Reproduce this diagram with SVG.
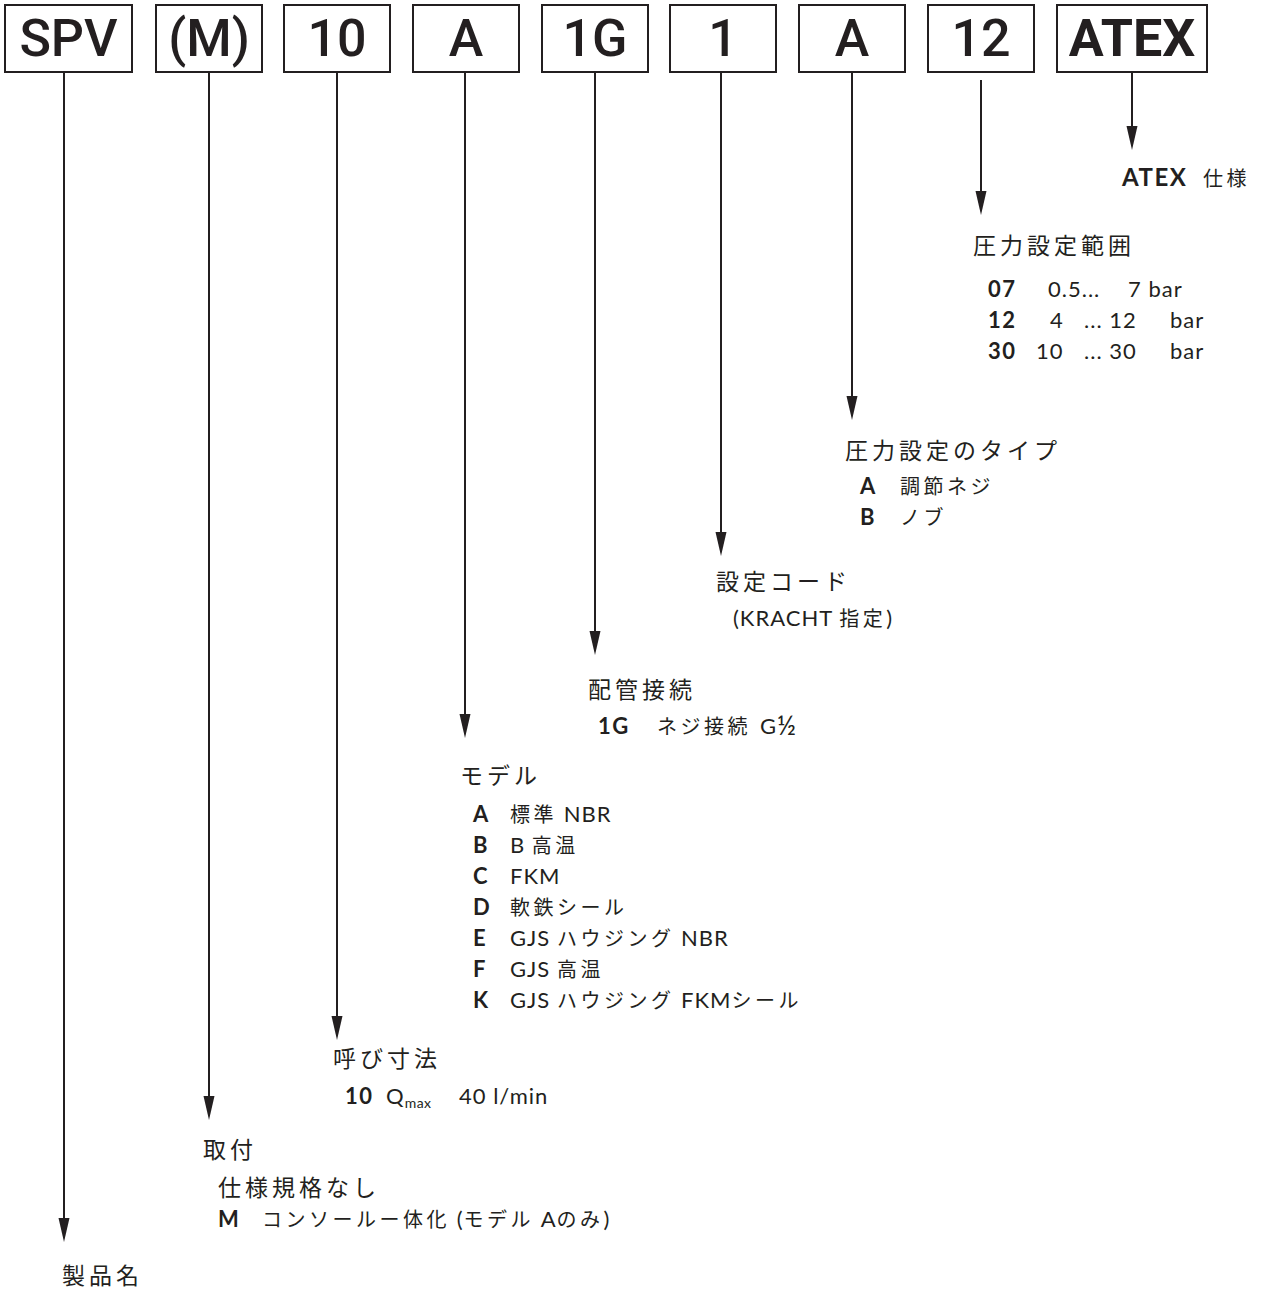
<svg xmlns="http://www.w3.org/2000/svg" xmlns:xlink="http://www.w3.org/1999/xlink" width="1262" height="1292" viewBox="0 0 1262 1292">
<style>
.box{fill:#fff;stroke:#231f20;stroke-width:2}
.bt{font-family:Roboto,"Liberation Sans",sans-serif;font-weight:500;font-size:52px;fill:#231f20;text-anchor:middle}
.bb{font-weight:700}
.ln{stroke:#231f20;stroke-width:2;fill:none}
.ah{fill:#231f20}
.jh{font-family:"Noto Sans CJK JP",sans-serif;font-size:23px;letter-spacing:4px;fill:#231f20}
.t{font-family:Lato,"Noto Sans CJK JP",sans-serif;font-size:22px;letter-spacing:1px;fill:#231f20}
.j{font-family:"Noto Sans CJK JP",sans-serif;font-size:20px;letter-spacing:3.5px}
.b{font-weight:700;letter-spacing:1.5px}
</style>
<defs>
<path id="ah" d="M0,0 L-5.5,-24 L5.5,-24 Z"/>
</defs>
<rect width="1262" height="1292" fill="#fff"/>
<g id="connectors">
<line class="ln" x1="64" y1="72" x2="64" y2="1222"/><use href="#ah" class="ah" x="64" y="1242"/>
<line class="ln" x1="209" y1="72" x2="209" y2="1100"/><use href="#ah" class="ah" x="209" y="1120"/>
<line class="ln" x1="337" y1="72" x2="337" y2="1020"/><use href="#ah" class="ah" x="337" y="1040"/>
<line class="ln" x1="465" y1="72" x2="465" y2="718"/><use href="#ah" class="ah" x="465" y="738"/>
<line class="ln" x1="595" y1="72" x2="595" y2="635"/><use href="#ah" class="ah" x="595" y="655"/>
<line class="ln" x1="721" y1="72" x2="721" y2="536"/><use href="#ah" class="ah" x="721" y="556"/>
<line class="ln" x1="852" y1="72" x2="852" y2="400"/><use href="#ah" class="ah" x="852" y="420"/>
<line class="ln" x1="981" y1="80" x2="981" y2="195"/><use href="#ah" class="ah" x="981" y="215"/>
<line class="ln" x1="1132" y1="72" x2="1132" y2="130"/><use href="#ah" class="ah" x="1132" y="150"/>
</g>
<g id="node-spv"><rect class="box" x="5" y="5" width="127" height="67"/><text class="bt" x="68.5" y="56">SPV</text></g>
<g id="node-m"><rect class="box" x="156" y="5" width="106" height="67"/><text class="bt" x="209" y="56">(M)</text></g>
<g id="node-10"><rect class="box" x="284" y="5" width="106" height="67"/><text class="bt" x="337" y="56">10</text></g>
<g id="node-a1"><rect class="box" x="413" y="5" width="106" height="67"/><text class="bt" x="466" y="56">A</text></g>
<g id="node-1g"><rect class="box" x="542" y="5" width="106" height="67"/><text class="bt" x="595" y="56">1G</text></g>
<g id="node-1"><rect class="box" x="670" y="5" width="106" height="67"/><text class="bt" x="723" y="56">1</text></g>
<g id="node-a2"><rect class="box" x="799" y="5" width="106" height="67"/><text class="bt" x="852" y="56">A</text></g>
<g id="node-12"><rect class="box" x="928" y="5" width="106" height="67"/><text class="bt" x="981" y="56">12</text></g>
<g id="node-atex"><rect class="box" x="1057" y="5" width="150" height="67"/><text class="bt bb" x="1132" y="56">ATEX</text></g>

<g id="label-atex"><text class="t" y="186"><tspan class="b" x="1122" font-size="24" letter-spacing="2px">ATEX</tspan><tspan class="j" x="1203" font-size="22">仕様</tspan></text></g>
<g id="label-pressure-range">
<text class="jh" x="973" y="254">圧力設定範囲</text>
<text class="t" y="297"><tspan class="b" x="988">07</tspan><tspan x="1048">0.5...</tspan><tspan x="1128">7 bar</tspan></text>
<text class="t" y="328"><tspan class="b" x="988">12</tspan><tspan x="1050">4</tspan><tspan x="1084">... 12</tspan><tspan x="1170">bar</tspan></text>
<text class="t" y="359"><tspan class="b" x="988">30</tspan><tspan x="1036">10</tspan><tspan x="1084">... 30</tspan><tspan x="1170">bar</tspan></text>
</g>
<g id="label-pressure-type">
<text class="jh" x="845" y="459" font-size="24" letter-spacing="3">圧力設定のタイプ</text>
<text class="t" y="494"><tspan class="b" x="860">A</tspan><tspan class="j" x="900">調節ネジ</tspan></text>
<text class="t" y="525"><tspan class="b" x="860">B</tspan><tspan class="j" x="900">ノブ</tspan></text>
</g>
<g id="label-setting-code">
<text class="jh" x="716" y="590" font-size="22" letter-spacing="3.5">設定コード</text>
<text class="t" x="733" y="626">(KRACHT <tspan class="j">指定</tspan>)</text>
</g>
<g id="label-piping">
<text class="jh" x="588" y="698">配管接続</text>
<text class="t" y="734"><tspan class="b" x="598">1G</tspan><tspan class="j" x="657">ネジ接続</tspan><tspan x="760">G</tspan><tspan font-size="26" dy="1">½</tspan></text>
</g>
<g id="label-model">
<text class="jh" x="460" y="784">モデル</text>
<text class="t" y="822"><tspan class="b" x="473">A</tspan><tspan class="j" x="510">標準</tspan><tspan> NBR</tspan></text>
<text class="t" y="853"><tspan class="b" x="473">B</tspan><tspan x="510">B </tspan><tspan class="j">高温</tspan></text>
<text class="t" y="884"><tspan class="b" x="473">C</tspan><tspan x="510">FKM</tspan></text>
<text class="t" y="915"><tspan class="b" x="473">D</tspan><tspan class="j" x="510">軟鉄シール</tspan></text>
<text class="t" y="946"><tspan class="b" x="473">E</tspan><tspan x="510">GJS </tspan><tspan class="j">ハウジング</tspan><tspan> NBR</tspan></text>
<text class="t" y="977"><tspan class="b" x="473">F</tspan><tspan x="510">GJS </tspan><tspan class="j">高温</tspan></text>
<text class="t" y="1008"><tspan class="b" x="473">K</tspan><tspan x="510">GJS </tspan><tspan class="j">ハウジング</tspan><tspan> FKM</tspan><tspan class="j">シール</tspan></text>
</g>
<g id="label-size">
<text class="jh" x="333" y="1067" letter-spacing="1.5">呼び寸法</text>
<text class="t" y="1104"><tspan class="b" x="345">10</tspan><tspan x="386">Q</tspan><tspan font-size="14" dy="4" letter-spacing="0.5">max</tspan><tspan x="459" dy="-4">40 l/min</tspan></text>
</g>
<g id="label-mounting">
<text class="jh" x="203" y="1158" font-size="22" letter-spacing="0">取付</text>
<text class="jh" x="218" y="1196">仕様規格なし</text>
<text class="t" y="1227"><tspan class="b" x="218">M</tspan><tspan class="j" x="262" letter-spacing="2.5">コンソールー体化</tspan><tspan> (</tspan><tspan class="j" letter-spacing="1.5">モデル</tspan><tspan> A</tspan><tspan class="j" letter-spacing="0.5">のみ</tspan><tspan>)</tspan></text>
</g>
<g id="label-product"><text class="jh" x="62" y="1284" font-size="22" letter-spacing="3.5">製品名</text></g>
</svg>
